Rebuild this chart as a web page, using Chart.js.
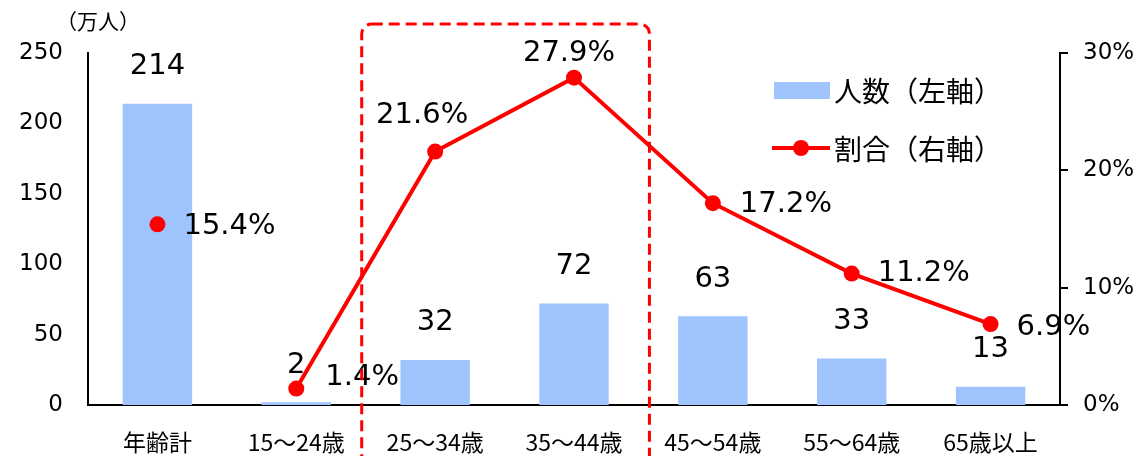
<!DOCTYPE html>
<html>
<head>
<meta charset="utf-8">
<script src="https://cdn.jsdelivr.net/npm/chart.js@4"></script>
<style>
  html, body { margin: 0; padding: 0; background: #fff; }
  #wrap { width: 1133px; height: 456px; }
</style>
</head>
<body>
<div id="wrap"><canvas id="c" width="1133" height="456"></canvas></div>
<script>
// Age groups and values
const categories = ['年齢計', '15～24歳', '25～34歳', '35～44歳', '45～54歳', '55～64歳', '65歳以上'];
const headcount = [214, 2, 32, 72, 63, 33, 13];          // 万人 (left axis)
const sharePct = [15.4, 1.4, 21.6, 27.9, 17.2, 11.2, 6.9]; // % (right axis)
const leftTicks = [0, 50, 100, 150, 200, 250];
const rightTicks = [0, 10, 20, 30];

const BLUE = '#9EC3FD';
const RED = '#FF0000';
const NUM_FONT = '"DejaVu Sans", Verdana, "Noto Sans CJK JP", sans-serif';
const JP_FONT = '"Noto Sans CJK JP", "DejaVu Sans", sans-serif';

// Placement of each percentage label relative to its point
const pctLabelPlace = [
  { dx: 26, dy: 2, align: 'left' },
  { dx: 29, dy: -11, align: 'left' },
  { dx: -13, dy: -36, align: 'center' },
  { dx: -5, dy: -24, align: 'center' },
  { dx: 27, dy: 1, align: 'left' },
  { dx: 26, dy: 0, align: 'left' },
  { dx: 26, dy: 3, align: 'left' }
];

const overlay = {
  id: 'overlay',
  afterDatasetsDraw(chart) {
    const ctx = chart.ctx;
    const xs = chart.scales.x;
    ctx.save();

    // value labels above the bars
    ctx.fillStyle = '#000';
    ctx.font = '29px ' + NUM_FONT;
    ctx.textBaseline = 'middle';
    ctx.textAlign = 'center';
    chart.getDatasetMeta(1).data.forEach((bar, i) => {
      ctx.fillText(String(headcount[i]), bar.x, bar.y - 37);
    });

    // percentage labels beside the points
    chart.getDatasetMeta(0).data.forEach((pt, i) => {
      const p = pctLabelPlace[i];
      ctx.textAlign = p.align;
      ctx.fillText(sharePct[i].toFixed(1) + '%', pt.x + p.dx, pt.y + p.dy);
    });

    // unit caption of the left axis
    ctx.font = '21px ' + JP_FONT;
    ctx.textAlign = 'left';
    ctx.fillText('（万人）', 56, 21);

    // legend
    const lx = 774, ly1 = 91, ly2 = 149;
    ctx.fillStyle = BLUE;
    ctx.fillRect(lx, ly1 - 9, 56, 17);
    ctx.strokeStyle = RED;
    ctx.lineWidth = 4;
    ctx.beginPath();
    ctx.moveTo(lx - 2, ly2 - 1);
    ctx.lineTo(lx + 56, ly2 - 1);
    ctx.stroke();
    ctx.fillStyle = RED;
    ctx.beginPath();
    ctx.arc(lx + 27, ly2 - 1, 8, 0, Math.PI * 2);
    ctx.fill();
    ctx.fillStyle = '#000';
    ctx.font = '28px ' + JP_FONT;
    ctx.fillText('人数（左軸）', 834, ly1);
    ctx.fillText('割合（右軸）', 834, ly2);

    // highlight frame around the 25～44 age groups
    const left = (xs.getPixelForValue(1) + xs.getPixelForValue(2)) / 2 - 4;
    const right = (xs.getPixelForValue(3) + xs.getPixelForValue(4)) / 2 + 6;
    const top = 24, bottom = 470, r = 10;
    ctx.strokeStyle = RED;
    ctx.lineWidth = 3;
    ctx.setLineDash([11, 6]);
    ctx.beginPath();
    ctx.moveTo(left + r, top);
    ctx.lineTo(right - r, top);
    ctx.arcTo(right, top, right, top + r, r);
    ctx.lineTo(right, bottom - r);
    ctx.arcTo(right, bottom, right - r, bottom, r);
    ctx.lineTo(left + r, bottom);
    ctx.arcTo(left, bottom, left, bottom - r, r);
    ctx.lineTo(left, top + r);
    ctx.arcTo(left, top, left + r, top, r);
    ctx.closePath();
    ctx.stroke();
    ctx.restore();
  }
};

new Chart(document.getElementById('c'), {
  type: 'bar',
  data: {
    labels: categories,
    datasets: [
      {
        type: 'line',
        label: '割合（右軸）',
        data: sharePct,
        yAxisID: 'y2',
        borderColor: RED,
        backgroundColor: RED,
        borderWidth: 4,
        pointRadius: 8,
        pointHoverRadius: 8,
        pointBackgroundColor: RED,
        pointBorderWidth: 0,
        tension: 0,
        order: 0,
        segment: {
          borderColor: c => c.p0DataIndex === 0 ? 'rgba(0,0,0,0)' : RED
        }
      },
      {
        type: 'bar',
        label: '人数（左軸）',
        data: headcount,
        yAxisID: 'y',
        backgroundColor: BLUE,
        barPercentage: 0.5,
        categoryPercentage: 1.0,
        order: 1
      }
    ]
  },
  options: {
    responsive: false,
    animation: false,
    devicePixelRatio: 1,
    layout: { padding: { top: 53, left: 0, right: 0, bottom: 0 } },
    plugins: { legend: { display: false }, tooltip: { enabled: false } },
    scales: {
      x: {
        grid: { display: false, drawTicks: false },
        border: { display: true, color: '#000', width: 2 },
        ticks: { color: '#000', font: { size: 23, family: JP_FONT }, padding: 23, maxRotation: 0, autoSkip: false },
        afterFit: s => { s.height = 51; }
      },
      y: {
        position: 'left',
        min: 0, max: 250,
        afterBuildTicks: s => { s.ticks = leftTicks.map(v => ({ value: v })); },
        grid: { display: false, drawTicks: false },
        border: { display: true, color: '#000', width: 2 },
        ticks: { color: '#000', font: { size: 23, family: NUM_FONT }, padding: 25 },
        afterFit: s => { s.width = 88; }
      },
      y2: {
        position: 'right',
        min: 0, max: 30,
        afterBuildTicks: s => { s.ticks = rightTicks.map(v => ({ value: v })); },
        grid: { display: true, drawOnChartArea: false, drawTicks: true, tickLength: 8, color: '#000', lineWidth: 2 },
        border: { display: true, color: '#000', width: 2 },
        ticks: { color: '#000', font: { size: 23, family: NUM_FONT }, padding: 15, callback: v => v + '%' },
        afterFit: s => { s.width = 73; }
      }
    }
  },
  plugins: [overlay]
});
</script>
</body>
</html>
